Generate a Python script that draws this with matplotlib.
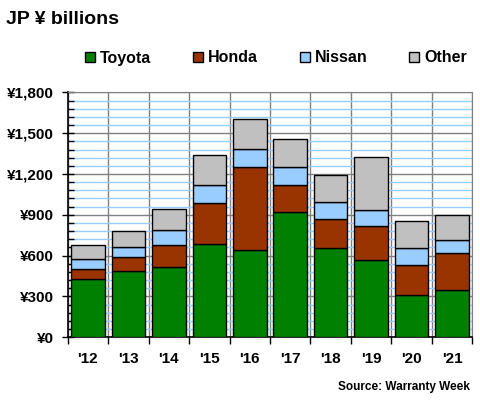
import numpy as np
import matplotlib.pyplot as plt
from matplotlib.ticker import MultipleLocator, FixedLocator, FuncFormatter

years = ["'12", "'13", "'14", "'15", "'16", "'17", "'18", "'19", "'20", "'21"]
toyota = [431, 490, 519, 683, 639, 918, 654, 566, 309, 345]
honda = [69, 98, 157, 302, 610, 199, 213, 250, 220, 272]
nissan = [73, 73, 110, 132, 132, 132, 125, 117, 125, 96]
other = [103, 118, 154, 220, 221, 206, 198, 389, 198, 183]

series = [("Toyota", toyota, "#008000"),
          ("Honda", honda, "#993300"),
          ("Nissan", nissan, "#99CCFF"),
          ("Other", other, "#C0C0C0")]

plt.rcParams['font.family'] = ['Liberation Sans', 'DejaVu Sans']
plt.rcParams['font.weight'] = 'bold'

fig = plt.figure(figsize=(4.8, 4.0), dpi=100)
ax = fig.add_axes([0.141, 0.157, 0.843, 0.612])

x = np.arange(len(years))
bottom = np.zeros(len(years))
for name, vals, col in series:
    ax.bar(x, vals, width=0.83, bottom=bottom, color=col,
           edgecolor='black', linewidth=1.0, label=name, zorder=3)
    bottom += np.array(vals)

ax.set_xlim(-0.5, len(years) - 0.5)
ax.set_ylim(0, 1800)

# y axis
ax.yaxis.set_major_locator(MultipleLocator(300))
ax.yaxis.set_minor_locator(MultipleLocator(60))
ax.yaxis.set_major_formatter(FuncFormatter(lambda v, p: f'¥{int(v):,}'))
ax.tick_params(axis='y', which='major', direction='inout', length=8, width=1,
               labelsize=11, pad=6)
ax.tick_params(axis='y', which='minor', direction='in', length=4, width=1)

# x axis: ticks at boundaries, labels at centres
ax.xaxis.set_major_locator(FixedLocator(np.arange(-0.5, len(years), 1.0)))
ax.xaxis.set_major_formatter(FuncFormatter(lambda v, p: ''))
ax.xaxis.set_minor_locator(FixedLocator(x))
ax.set_xticklabels(years, minor=True)
ax.tick_params(axis='x', which='major', direction='out', length=5, width=1)
ax.tick_params(axis='x', which='minor', length=0, labelsize=11, pad=11)

ax.grid(True, which='major', axis='both', color='#808080', linewidth=1.0, zorder=1)
ax.grid(True, which='minor', axis='y', color='#99CCFF', linewidth=1.0, zorder=0)
ax.set_axisbelow(True)

for s in ['top', 'right']:
    ax.spines[s].set_color('#808080')
for s in ['left', 'bottom']:
    ax.spines[s].set_color('black')
    ax.spines[s].set_linewidth(1.2)

fig.text(0.0125, 0.94, 'JP ¥ billions', fontsize=14, fontweight='bold', va='baseline')
fig.legend(loc='center', bbox_to_anchor=(0.575, 0.855), ncol=4, frameon=False,
           fontsize=11.5, handlelength=0.65, handleheight=0.65, handletextpad=0.3,
           columnspacing=2.6, prop={'weight': 'bold', 'size': 11.5})
fig.text(0.978, 0.025, 'Source: Warranty Week', fontsize=8.5, fontweight='bold',
         ha='right', va='baseline')

fig.savefig('out.png', dpi=100)
